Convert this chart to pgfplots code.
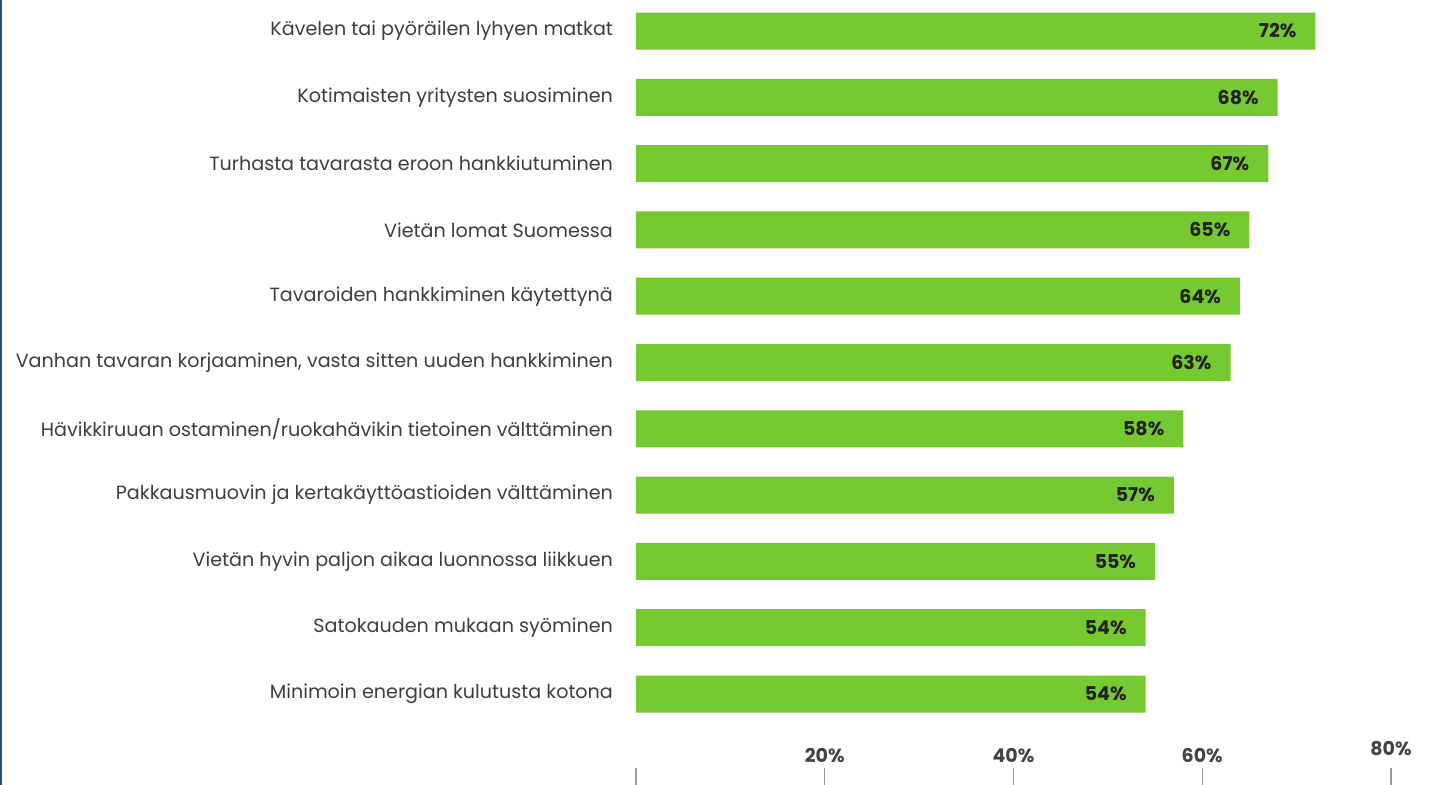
\documentclass[border=0pt]{standalone}
\usepackage{pgfplots}
\pgfplotsset{compat=1.18}
\usepackage{fontspec}
\setmainfont{Poppins}
\definecolor{bargreen}{HTML}{76C931}
\definecolor{labgray}{HTML}{3E3E3E}
\definecolor{valdark}{HTML}{222222}
\definecolor{edgeblue}{HTML}{1F4F8F}
\begin{document}
\begin{tikzpicture}
\begin{axis}[
  at={(0,0)}, anchor=south west,
  scale only axis,
  width=377.5pt, height=392.5pt,
  xmin=0, xmax=80,
  ymin=-1.372, ymax=10.468,
  xbar, bar width=18.5pt,
  axis line style={draw=none},
  ytick={0,...,10},
  yticklabels={
    Minimoin energian kulutusta kotona,
    Satokauden mukaan syöminen,
    Vietän hyvin paljon aikaa luonnossa liikkuen,
    Pakkausmuovin ja kertakäyttöastioiden välttäminen,
    Hävikkiruuan ostaminen/ruokahävikin tietoinen välttäminen,
    {Vanhan tavaran korjaaminen, vasta sitten uuden hankkiminen},
    Tavaroiden hankkiminen käytettynä,
    Vietän lomat Suomessa,
    Turhasta tavarasta eroon hankkiutuminen,
    Kotimaisten yritysten suosiminen,
    Kävelen tai pyöräilen lyhyen matkat},
  ytick style={draw=none},
  yticklabel style={font=\fontsize{9.57}{11}\selectfont, text=labgray, anchor=east, xshift=-8pt},
  xtick={0,20,40,60,80},
  xticklabels={,20\%,40\%,60\%,{\raisebox{3.5pt}{80\%}}},
  xtick pos=bottom,
  tick align=inside,
  major tick length=8.5pt,
  xtick style={draw=gray!80, line width=0.6pt},
  xticklabel style={font=\fontsize{9.5}{11}\selectfont\bfseries, text=valdark!85, anchor=base, yshift=11pt},
  /pgf/number format/assume math mode=true,
  nodes near coords={\pgfmathprintnumber{\pgfplotspointmeta}\%},
  nodes near coords style={font=\fontsize{9.5}{11}\selectfont\bfseries, text=valdark, anchor=east, xshift=-6pt},
  clip=false,
]
\addplot[fill=bargreen, draw=none] coordinates {
  (54,0) (54,1) (55,2) (57,3) (58,4) (63,5) (64,6) (65,7) (67,8) (68,9) (72,10)
};
\end{axis}
\draw[edgeblue, line width=1pt] (-317.5pt,0) -- (-317.5pt,392.5pt);
\pgfresetboundingbox
\useasboundingbox (-318pt,0) rectangle (410pt,392.5pt);
\end{tikzpicture}
\end{document}
